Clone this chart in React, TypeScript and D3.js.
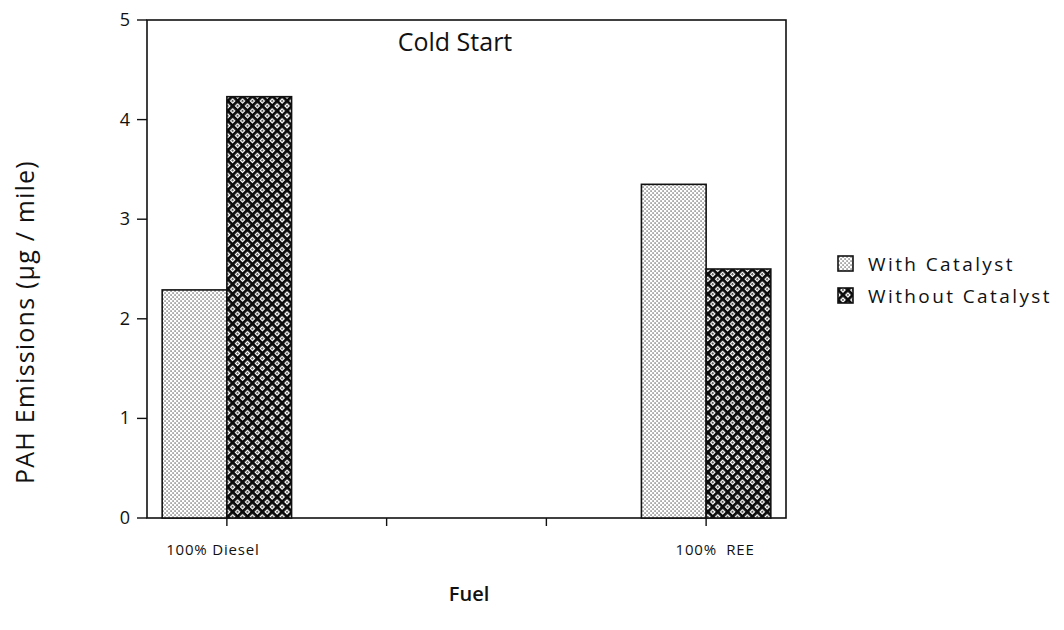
import * as d3 from 'd3';

// categories on the x band scale (the two middle slots are empty, as in the original)
const fuels = ['100% Diesel', 'gap1', 'gap2', '100% REE'];
const fuelLabels = ['100% Diesel', '', '', '100%  REE'];
const series = ['With Catalyst', 'Without Catalyst'];
const withCatalyst = [2.29, 0, 0, 3.35];
const withoutCatalyst = [4.23, 0, 0, 2.5];
const yTicks = [0, 1, 2, 3, 4, 5];

export default function App() {
  const width = 1064;
  const height = 630;
  const left = 147;
  const right = 786;
  const top = 20;
  const bottom = 518;

  const x = d3.scaleBand<string>().domain(fuels).range([left, right]);
  const y = d3.scaleLinear().domain([0, 5]).range([bottom, top]);
  const bw = x.bandwidth() * 0.405;

  const font = '"Open Sans", Lato, sans-serif';

  return (
    <svg width={width} height={height} style={{ position: 'absolute', left: 0, top: 0, background: '#fff' }}>
      <defs>
        <pattern id="dots" width="4" height="4" patternUnits="userSpaceOnUse">
          <rect width="4" height="4" fill="#fff" />
          <rect x="0.5" y="0.5" width="1.1" height="1.1" fill="#111" />
          <rect x="2.5" y="2.5" width="1.1" height="1.1" fill="#111" />
        </pattern>
        <pattern id="hatch" width="7" height="7" patternUnits="userSpaceOnUse" patternTransform="rotate(45)">
          <rect width="7" height="7" fill="#fff" />
          <rect x="0" y="0" width="7" height="2.8" fill="#0a0a0a" />
          <rect x="0" y="0" width="2.8" height="7" fill="#0a0a0a" />
          <circle cx="4.9" cy="4.9" r="0.9" fill="#0a0a0a" />
        </pattern>
      </defs>

      {/* frame */}
      <rect x={left} y={top} width={right - left} height={bottom - top} fill="none" stroke="#111" strokeWidth={1.6} />

      {/* bars */}
      {fuels.map((f, i) => {
        const c = (x(f) as number) + x.bandwidth() / 2;
        return (
          <g key={f}>
            {withCatalyst[i] > 0 && (
              <rect x={c - bw} y={y(withCatalyst[i])} width={bw} height={bottom - y(withCatalyst[i])}
                fill="url(#dots)" stroke="#111" strokeWidth={1.6} />
            )}
            {withoutCatalyst[i] > 0 && (
              <rect x={c} y={y(withoutCatalyst[i])} width={bw} height={bottom - y(withoutCatalyst[i])}
                fill="url(#hatch)" stroke="#111" strokeWidth={1.6} />
            )}
          </g>
        );
      })}

      {/* y axis ticks */}
      {yTicks.map(t => (
        <g key={t}>
          <line x1={left - 10} x2={left} y1={y(t)} y2={y(t)} stroke="#111" strokeWidth={1.4} />
          <text x={left - 17} y={y(t) + 6} textAnchor="end" fontSize={18} fontFamily={font} fill="#111">{t}</text>
        </g>
      ))}

      {/* x axis ticks */}
      {fuels.map((f, i) => {
        const c = (x(f) as number) + x.bandwidth() / 2;
        return (
          <g key={f}>
            <line x1={c} x2={c} y1={bottom} y2={bottom + 8} stroke="#111" strokeWidth={1.4} />
            {fuelLabels[i] && (
              <text x={c + (i === 0 ? -14 : 9)} y={bottom + 37} textAnchor="middle" fontSize={15}
                fontFamily={font} fill="#111" letterSpacing={0.8} style={{ whiteSpace: 'pre' }}>{fuelLabels[i]}</text>
            )}
          </g>
        );
      })}

      <text x={455} y={51} textAnchor="middle" fontSize={25} fontFamily={font} fill="#111">Cold Start</text>

      <text transform={`translate(34,322) rotate(-90)`} textAnchor="middle"
        fontSize={25} letterSpacing={1.2} fontFamily={font} fill="#111">PAH Emissions (µg / mile)</text>

      <text x={469} y={601} textAnchor="middle" fontSize={20} fontWeight={600} fontFamily={font} fill="#111">Fuel</text>

      {/* legend */}
      {series.map((s, i) => (
        <g key={s} transform={`translate(838,${256 + i * 32})`}>
          <rect width={15} height={15} fill={i === 0 ? 'url(#dots)' : 'url(#hatch)'} stroke="#111" strokeWidth={1.6} />
          <text x={30} y={15} fontSize={19} letterSpacing={2.4} fontFamily={font} fill="#111">{s}</text>
        </g>
      ))}
    </svg>
  );
}
